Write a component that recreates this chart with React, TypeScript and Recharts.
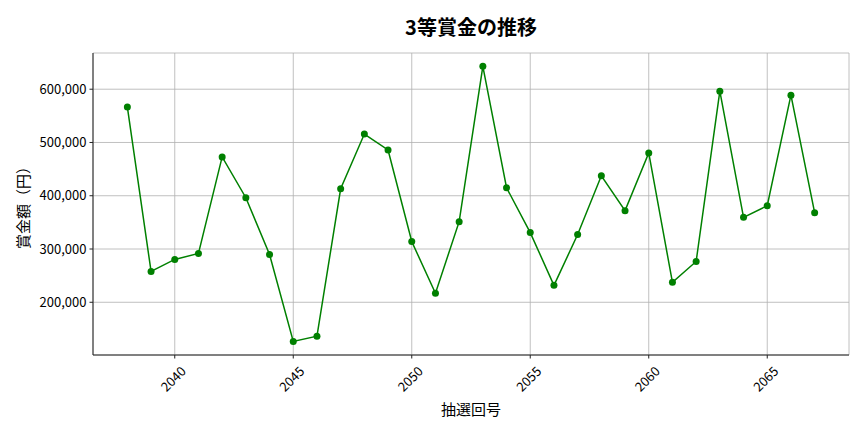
import { LineChart, Line, XAxis, YAxis, CartesianGrid } from 'recharts'

const FONT = '"Noto Sans CJK JP", "Noto Sans", sans-serif'

const draws = [
  2038, 2039, 2040, 2041, 2042, 2043, 2044, 2045, 2046, 2047,
  2048, 2049, 2050, 2051, 2052, 2053, 2054, 2055, 2056, 2057,
  2058, 2059, 2060, 2061, 2062, 2063, 2064, 2065, 2066, 2067,
]
const prizes = [
  566400, 257900, 280400, 291600, 472900, 396300, 289700, 126400, 136400, 413100,
  515900, 486000, 314000, 216800, 351400, 643000, 415000, 330800, 231800, 327100,
  437400, 372000, 480400, 237400, 276600, 596300, 359400, 381300, 588800, 368200,
]
const xTicks = [2040, 2045, 2050, 2055, 2060, 2065]
const yTicks = [200000, 300000, 400000, 500000, 600000]

const data = draws.map((d, i) => ({ draw: d, prize: prizes[i] }))

function XTick(props: any) {
  const { x, y, payload } = props
  const cx = x - 2
  const cy = y + 18
  return (
    <text
      x={cx}
      y={cy}
      textAnchor="middle"
      dominantBaseline="central"
      fontSize={13}
      fontFamily={FONT}
      fill="#000"
      transform={`rotate(-45, ${cx}, ${cy})`}
    >
      {payload.value}
    </text>
  )
}

export default function App() {
  return (
    <div style={{ position: 'absolute', left: 0, top: 0, width: 864, height: 432, background: '#fff' }}>
      <LineChart
        width={864}
        height={432}
        data={data}
        margin={{ top: 53, right: 15, bottom: 0, left: 0 }}
      >
        <text x={471} y={26} textAnchor="middle" dominantBaseline="central" fontSize={20} fontWeight="bold" fontFamily={FONT} fill="#000">
          3等賞金の推移
        </text>
        <text x={471} y={408} textAnchor="middle" dominantBaseline="central" fontSize={15} fontFamily={FONT} fill="#000">
          抽選回号
        </text>
        <text
          x={22}
          y={204}
          textAnchor="middle"
          dominantBaseline="central"
          fontSize={15}
          fontFamily={FONT}
          fill="#000"
          transform="rotate(-90, 22, 204)"
        >
          賞金額（円）
        </text>
        <CartesianGrid stroke="#b0b0b0" strokeWidth={0.8} />
        <XAxis
          dataKey="draw"
          type="number"
          domain={[2036.55, 2068.45]}
          ticks={xTicks}
          height={77}
          tick={<XTick />}
          tickSize={3.5}
          axisLine={{ stroke: '#222', strokeWidth: 1 }}
          tickLine={{ stroke: '#222' }}
        />
        <XAxis
          xAxisId="top"
          orientation="top"
          dataKey="draw"
          type="number"
          domain={[2036.55, 2068.45]}
          height={0}
          tick={false}
          tickLine={false}
          axisLine={{ stroke: '#222', strokeWidth: 1 }}
        />
        <YAxis
          type="number"
          domain={[101000, 668000]}
          ticks={yTicks}
          width={93}
          tickSize={3.5}
          tickMargin={3}
          tickFormatter={(v: number) => v.toLocaleString('en-US')}
          tick={{ fontSize: 13, fontFamily: FONT, fill: '#000' }}
          axisLine={{ stroke: '#222', strokeWidth: 1 }}
          tickLine={{ stroke: '#222' }}
        />
        <YAxis
          yAxisId="right"
          orientation="right"
          type="number"
          domain={[101000, 668000]}
          width={0}
          tick={false}
          tickLine={false}
          axisLine={{ stroke: '#222', strokeWidth: 1 }}
        />
        <Line
          dataKey="prize"
          stroke="#008000"
          strokeWidth={1.5}
          dot={{ r: 3.5, fill: '#008000', stroke: '#008000', strokeWidth: 0 }}
          isAnimationActive={false}
        />
      </LineChart>
    </div>
  )
}
